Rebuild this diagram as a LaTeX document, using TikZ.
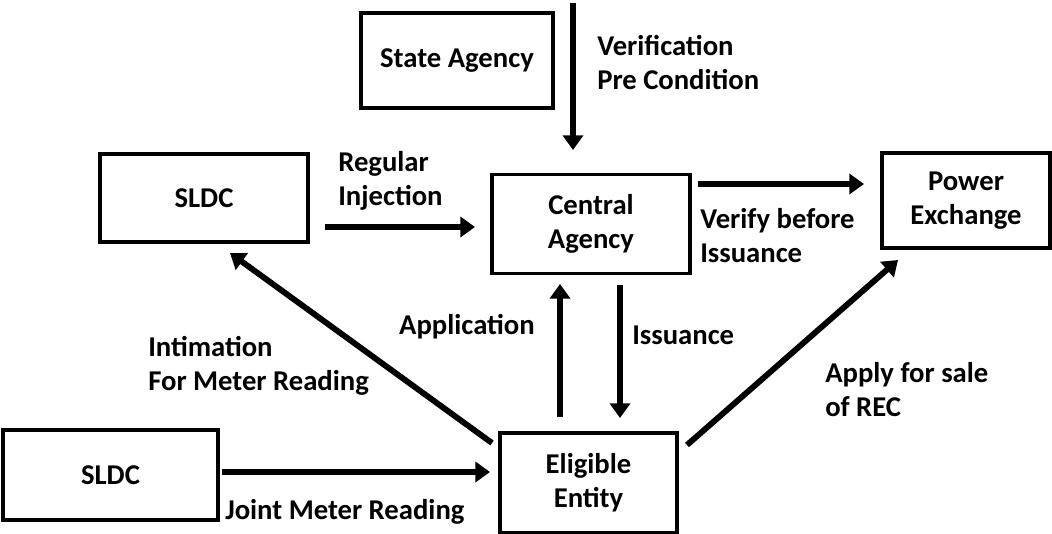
\documentclass[tikz,border=0pt]{standalone}
\usepackage{fontspec}
\setmainfont{Carlito}
\usetikzlibrary{arrows.meta}
\begin{document}
\begin{tikzpicture}[x=0.75pt,y=-0.75pt,
  txt/.style={font=\bfseries\fontsize{21.5}{25.5}\selectfont},
  box/.style={draw, line width=2.8pt, align=center, txt, inner sep=0pt},
  lbl/.style={align=left, txt, inner sep=0pt},
  arr/.style={line width=4.4pt, -{Triangle[length=11pt,width=15pt]}}]
\useasboundingbox (0,0) rectangle (1052,533);

% boxes
\node[box, minimum width=144pt, minimum height=71.25pt] (state) at (457,60.5) {State Agency};
\node[box, minimum width=156pt, minimum height=66pt] (sldcA) at (204,198) {SLDC};
\node[box, minimum width=148.5pt, minimum height=74.25pt] (central) at (591,224) {Central\\Agency};
\node[box, minimum width=126pt, minimum height=71.25pt] (power) at (966,200.5) {Power\\Exchange};
\node[box, minimum width=132.75pt, minimum height=75pt] (eligible) at (588.5,483) {Eligible\\Entity};
\node[box, minimum width=161.25pt, minimum height=67.5pt] (sldcB) at (110.5,475) {SLDC};

% arrow end points
\coordinate (vp-s) at (573,3);     \coordinate (vp-e) at (573,150);
\coordinate (ri-s) at (325,227);   \coordinate (ri-e) at (475,227);
\coordinate (vb-s) at (698,184);   \coordinate (vb-e) at (864,184);
\coordinate (ap-s) at (560,417);   \coordinate (ap-e) at (560,284);
\coordinate (is-s) at (620,285);   \coordinate (is-e) at (620,418);
\coordinate (im-s) at (492,443);   \coordinate (im-e) at (230,253);
\coordinate (sa-s) at (687,445);   \coordinate (sa-e) at (898,260);
\coordinate (jm-s) at (222,472);   \coordinate (jm-e) at (490,472);

% connectors
\draw[arr] (vp-s) -- (vp-e);
\draw[arr] (ri-s) -- (ri-e);
\draw[arr] (vb-s) -- (vb-e);
\draw[arr] (ap-s) -- (ap-e);
\draw[arr] (is-s) -- (is-e);
\draw[arr] (im-s) -- (im-e);
\draw[arr] (sa-s) -- (sa-e);
\draw[arr] (jm-s) -- (jm-e);

% labels
\node[lbl, anchor=west] (l-vp) at (597,63) {Verification\\Pre Condition};
\node[lbl, anchor=west] (l-ri) at (338,181) {Regular\\Injection};
\node[lbl, anchor=west] (l-vb) at (700,236) {Verify before\\Issuance};
\node[lbl, anchor=west] (l-im) at (148,366) {Intimation\\For Meter Reading};
\node[lbl, anchor=east] (l-ap) at (535,327) {Application};
\node[lbl, anchor=west] (l-is) at (632,335) {Issuance};
\node[lbl, anchor=west] (l-sa) at (825,390) {Apply for sale\\of REC};
\node[lbl, anchor=west] (l-jm) at (225,512) {Joint Meter Reading};
\end{tikzpicture}
\end{document}
